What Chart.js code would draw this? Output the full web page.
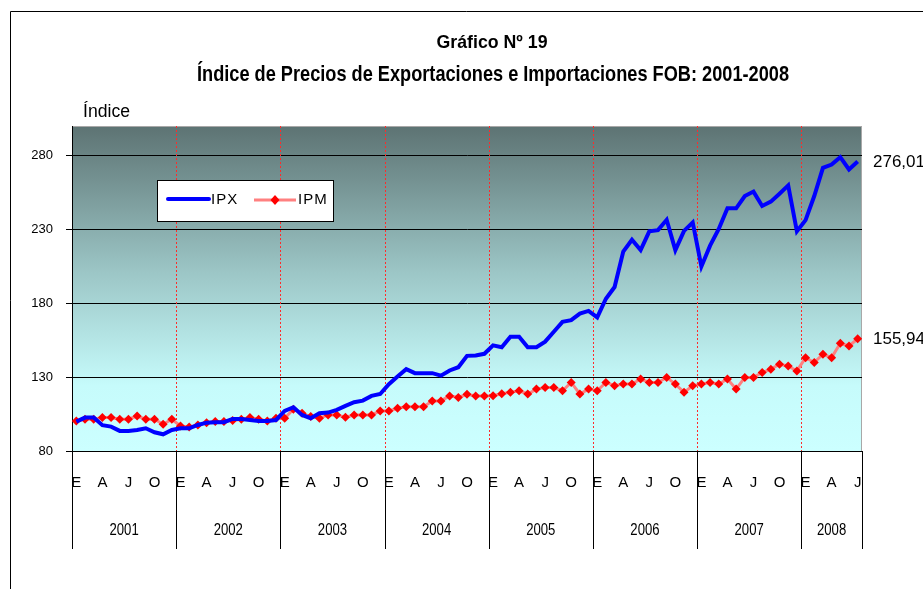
<!DOCTYPE html>
<html>
<head>
<meta charset="utf-8">
<script src="https://cdn.jsdelivr.net/npm/chart.js@4.4.1/dist/chart.umd.min.js"></script>
<style>
  html, body { margin: 0; padding: 0; background: #fff; }
  #wrap { position: relative; width: 923px; height: 589px; }
</style>
</head>
<body>
<div id="wrap"><canvas id="chart" width="923" height="589"></canvas></div>
<script>
// months Jan 2001 .. Jul 2008
const years = ['2001', '2002', '2003', '2004', '2005', '2006', '2007', '2008'];
const monthLetters = ['E', 'F', 'M', 'A', 'M', 'J', 'J', 'A', 'S', 'O', 'N', 'D'];
const yTicks = [80, 130, 180, 230, 280];

const ipx = [
    99.9, 102.6, 102.6, 97.5, 96.5, 93.6, 93.6, 94.2, 95.4, 92.7, 91.3, 94.2,
    95.4, 95.4, 97.6, 99.2, 99.5, 99.5, 101.7, 101.7, 101.0, 100.3, 100.3, 101.0,
    107.1, 109.6, 104.4, 102.2, 105.5, 106.0, 107.8, 110.5, 113.0, 114.1, 117.3, 118.6,
    125.2, 130.4, 135.4, 132.7, 132.7, 132.7, 131.0, 134.5, 136.7, 144.4, 144.6, 145.8,
    151.5, 150.2, 157.4, 157.4, 150.2, 150.2, 154.0, 160.7, 167.4, 168.6, 173.0, 174.8,
    170.4, 183.1, 191.0, 215.0, 223.0, 216.0, 228.7, 229.5, 236.5, 216.0, 229.0, 234.7,
    204.9, 219.0, 230.3, 244.3, 244.3, 252.6, 255.6, 245.9, 248.8, 254.2, 259.8, 228.7,
    236.3, 252.6, 271.7, 273.9, 278.9, 270.6, 276.01
];
const ipm = [
    100.3, 101.5, 101.5, 102.6, 102.6, 101.5, 101.5, 103.7, 101.5, 101.5, 98.1, 101.5,
    96.9, 96.3, 97.6, 99.2, 99.9, 99.9, 100.6, 101.5, 102.6, 101.5, 100.3, 102.2,
    102.2, 108.3, 105.5, 103.3, 102.2, 104.4, 104.4, 102.8, 104.4, 104.4, 104.4, 107.1,
    107.1, 108.9, 110.0, 110.0, 110.0, 113.9, 113.9, 117.3, 116.2, 118.4, 117.3, 117.3,
    117.4, 118.8, 119.7, 120.8, 118.6, 121.9, 123.0, 123.0, 120.8, 126.4, 118.6, 121.9,
    120.8, 126.4, 124.2, 125.3, 125.3, 128.7, 126.4, 126.4, 129.8, 125.3, 119.7, 124.2,
    125.3, 126.4, 125.3, 128.7, 121.9, 129.8, 129.8, 133.1, 135.4, 138.7, 137.6, 134.2,
    143.2, 139.9, 145.5, 143.2, 152.9, 151.1, 155.94
];

const labels = ipx.map((_, i) => monthLetters[i % 12] + ' ' + years[Math.floor(i / 12)]);

const SANS = '"Liberation Sans", Arial, sans-serif';

// narrow text: squeeze Arial-like glyphs to a target width
const narrowText = (ctx, text, x, y, ratio) => {
    const w = ctx.measureText(text).width;
    ctx.fillText(text, x, y, w * ratio);
};

const decor = {
    id: 'decor',
    beforeDraw(chart) {
        const { ctx, chartArea: a } = chart;
        ctx.save();
        // outer frame
        ctx.strokeStyle = '#000';
        ctx.lineWidth = 1;
        ctx.beginPath();
        ctx.moveTo(10.5, 589);
        ctx.lineTo(10.5, 11.5);
        ctx.lineTo(923, 11.5);
        ctx.stroke();
        // plot background
        const g = ctx.createLinearGradient(0, a.top, 0, a.bottom);
        g.addColorStop(0, '#5d7373');
        g.addColorStop(0.45, '#9cc6c6');
        g.addColorStop(0.8, '#c6fbfb');
        g.addColorStop(1, '#ccffff');
        ctx.fillStyle = g;
        ctx.fillRect(a.left, a.top, a.right - a.left, a.bottom - a.top);
        ctx.strokeStyle = '#a8a8a8';
        ctx.strokeRect(a.left + 0.5, a.top + 0.5, a.right - a.left - 1, a.bottom - a.top);
        ctx.restore();
    },
    beforeDatasetsDraw(chart) {
        const { ctx, chartArea: a } = chart;
        const step = (a.right - a.left) / labels.length;
        ctx.save();
        ctx.strokeStyle = '#ff2a2a';
        ctx.setLineDash([2, 2]);
        ctx.lineWidth = 1;
        for (let y = 1; y < years.length; y++) {
            const px = Math.round(a.left + y * 12 * step) + 0.5;
            ctx.beginPath();
            ctx.moveTo(px, a.top);
            ctx.lineTo(px, a.bottom);
            ctx.stroke();
        }
        ctx.restore();
    },
    afterDraw(chart) {
        const { ctx, chartArea: a } = chart;
        const step = (a.right - a.left) / labels.length;
        ctx.save();
        // year separators under the axis
        ctx.strokeStyle = '#000';
        ctx.lineWidth = 1;
        const bounds = [];
        for (let y = 0; y <= years.length; y++) {
            bounds.push(a.left + Math.min(y * 12, labels.length) * step);
        }
        bounds.forEach(b => {
            const px = Math.round(b) + 0.5;
            ctx.beginPath();
            ctx.moveTo(px, a.bottom);
            ctx.lineTo(px, 549);
            ctx.stroke();
        });
        ctx.fillStyle = '#000';
        ctx.textAlign = 'center';
        ctx.textBaseline = 'middle';
        ctx.font = '16px ' + SANS;
        years.forEach((yr, i) => {
            narrowText(ctx, yr, (bounds[i] + bounds[i + 1]) / 2, 531, 0.82);
        });
        // titles
        ctx.font = 'bold 19px ' + SANS;
        ctx.fillText('Gráfico Nº 19', 492, 43, 111);
        ctx.font = 'bold 22px ' + SANS;
        ctx.fillText('Índice de Precios de Exportaciones e Importaciones FOB: 2001-2008', 493, 75, 592);
        ctx.textAlign = 'left';
        ctx.font = '18px ' + SANS;
        ctx.fillText('Índice', 83, 112, 47);
        // end values
        ctx.font = '17px ' + SANS;
        ctx.fillText('276,01', 873, 162);
        ctx.fillText('155,94', 873, 339);
        // legend
        ctx.fillStyle = '#fff';
        ctx.fillRect(157, 180, 176, 41);
        ctx.strokeStyle = '#000';
        ctx.strokeRect(157.5, 180.5, 176, 41);
        ctx.lineCap = 'round';
        ctx.strokeStyle = '#0000ff';
        ctx.lineWidth = 4;
        ctx.beginPath();
        ctx.moveTo(168, 199);
        ctx.lineTo(209, 199);
        ctx.stroke();
        ctx.strokeStyle = '#ff8080';
        ctx.lineWidth = 3;
        ctx.lineCap = 'butt';
        ctx.beginPath();
        ctx.moveTo(254, 200);
        ctx.lineTo(296, 200);
        ctx.stroke();
        ctx.fillStyle = '#ff0000';
        ctx.beginPath();
        ctx.moveTo(275, 195);
        ctx.lineTo(279.5, 200);
        ctx.lineTo(275, 205);
        ctx.lineTo(270.5, 200);
        ctx.closePath();
        ctx.fill();
        ctx.fillStyle = '#000';
        ctx.font = '15px ' + SANS;
        ctx.letterSpacing = '1px';
        ctx.fillText('IPX', 211, 200);
        ctx.fillText('IPM', 298, 200);
        ctx.restore();
    }
};

new Chart(document.getElementById('chart'), {
    type: 'line',
    data: {
        labels: labels,
        datasets: [
            {
                label: 'IPX',
                data: ipx,
                borderColor: '#0000ff',
                borderWidth: 4,
                pointRadius: 0,
                tension: 0
            },
            {
                label: 'IPM',
                data: ipm,
                borderColor: '#ff8080',
                borderWidth: 3,
                pointStyle: 'rectRot',
                pointRadius: 4.5,
                pointBackgroundColor: '#ff0000',
                pointBorderColor: '#ff0000',
                pointBorderWidth: 0,
                tension: 0
            }
        ]
    },
    options: {
        responsive: false,
        animation: false,
        layout: { padding: { top: 126, bottom: 40, left: 0, right: 61 } },
        plugins: {
            legend: { display: false },
            title: { display: false },
            tooltip: { enabled: false }
        },
        scales: {
            x: {
                offset: true,
                grid: { display: false, drawTicks: false },
                border: { display: true, color: '#000', width: 1 },
                afterFit: s => { s.height = 98; },
                ticks: {
                    autoSkip: false,
                    maxRotation: 0,
                    padding: 23,
                    color: '#000',
                    font: { family: SANS, size: 15 },
                    callback: (v, i) => (i % 3 === 0 ? monthLetters[i % 12] : '')
                }
            },
            y: {
                min: 80,
                max: 300,
                afterBuildTicks: s => { s.ticks = yTicks.map(v => ({ value: v })); },
                afterFit: s => { s.width = 72; },
                grid: { color: '#000', lineWidth: 1, tickLength: 6, drawOnChartArea: true },
                border: { display: true, color: '#000', width: 1 },
                ticks: {
                    padding: 13,
                    color: '#000',
                    font: { family: SANS, size: 13 }
                }
            }
        }
    },
    plugins: [decor]
});
</script>
</body>
</html>
